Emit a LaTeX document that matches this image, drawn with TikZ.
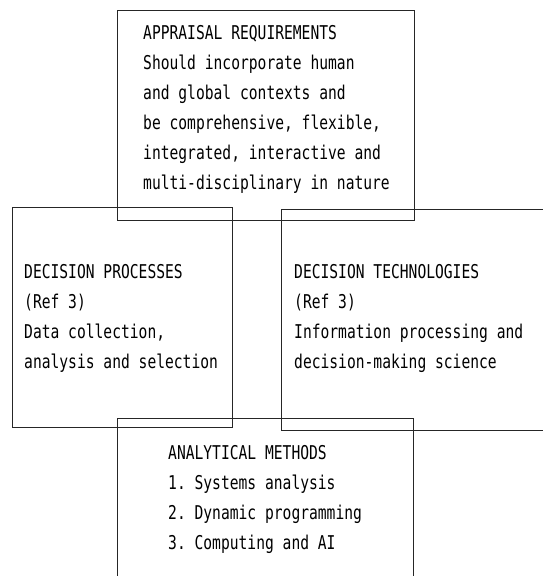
\documentclass[tikz,border=0pt]{standalone}
\usepackage{fontspec}
\setmonofont[FakeStretch=0.77]{DejaVu Sans Mono}
\begin{document}
\begin{tikzpicture}[x=1pt,y=-1pt,
	box/.style={draw=black!85,line width=1.4pt,rectangle,inner sep=0pt,anchor=north west},
	txt/.style={font=\ttfamily\fontsize{19}{30}\selectfont,align=left,inner sep=0pt,anchor=base west}]
	\useasboundingbox (0,0) rectangle (543,576);
	\clip (0,0) rectangle (543,576);

	% ramki
	\node[box,minimum width=297pt,minimum height=210pt] (appraisal) at (117,10) {};
	\node[box,minimum width=220pt,minimum height=220pt] (processes) at (12,207) {};
	\node[box,minimum width=280pt,minimum height=221pt] (technologies) at (281,209) {};
	\node[box,minimum width=296pt,minimum height=200pt] (methods) at (117,418) {};

	% teksty (base = ostatni wiersz)
	\node[txt] (appraisaltxt) at (143,189) {APPRAISAL REQUIREMENTS\\Should incorporate human\\and global contexts and\\be comprehensive, flexible,\\integrated, interactive and\\multi-disciplinary in nature};
	\node[txt] (processestxt) at (24,368) {DECISION PROCESSES\\(Ref 3)\\Data collection,\\analysis and selection};
	\node[txt] (technologiestxt) at (294,368) {DECISION TECHNOLOGIES\\(Ref 3)\\Information processing and\\decision-making science};
	\node[txt] (methodstxt) at (168,549) {ANALYTICAL METHODS\\1. Systems analysis\\2. Dynamic programming\\3. Computing and AI};
\end{tikzpicture}
\end{document}
